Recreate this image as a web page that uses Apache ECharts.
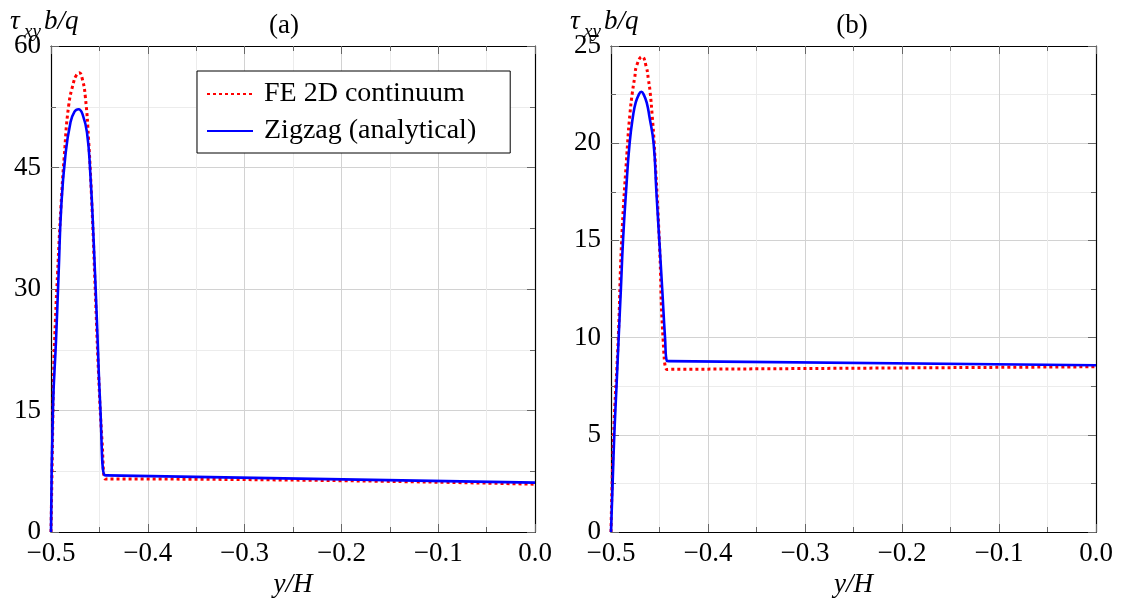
<!DOCTYPE html>
<html><head><meta charset="utf-8">
<script src="https://cdn.jsdelivr.net/npm/echarts@6/dist/echarts.min.js"></script>
<style>html,body{margin:0;padding:0;background:#fff}#c{width:1121px;height:605px}</style>
</head><body><div id="c"></div>
<script>
// ---------- data ----------
const seriesNames = ['FE 2D continuum', 'Zigzag (analytical)'];
const panelTitles = ['(a)', '(b)'];
const xMin = -0.5, xMax = 0, xStep = 0.1;
const yMaxA = 60, yStepA = 15;
const yMaxB = 25, yStepB = 5;

// Panel (a)
const aFeX = [-0.5, -0.4986, -0.4973, -0.4955, -0.4932, -0.4897, -0.4863, -0.4818, -0.4767, -0.4738, -0.4708, -0.4676, -0.4646, -0.4612, -0.4577, -0.4543, -0.4509, -0.4473, -0.4439, -0.4420, 0];
const aFeY = [0, 10, 19.6, 26, 32.0, 40.2, 46.4, 52.6, 55.5, 56.4, 56.7, 55.9, 53.8, 48.5, 40.2, 29.9, 19.6, 11.3, 6.55, 6.55, 5.9];
const aZzX = [-0.5, -0.4979, -0.4948, -0.4921, -0.4894, -0.4852, -0.48, -0.4757, -0.4715, -0.4672, -0.4628, -0.4594, -0.456, -0.4525, -0.4491, -0.4447, -0.4425, 0];
const aZzY = [0, 15.5, 23.7, 32.0, 40.2, 46.4, 50.5, 51.9, 52.2, 51.5, 49.3, 44.3, 36.1, 25.8, 15.5, 7.0, 6.99, 6.1];

// Panel (b)
const bFeX = [-0.5, -0.4973, -0.4925, -0.489, -0.4829, -0.4805, -0.478, -0.4755, -0.4735, -0.468, -0.4635, -0.4615, -0.4596, -0.4575, -0.4555, -0.4502, -0.4464, -0.4423, -0.4405, 0];
const bFeY = [0, 5, 10, 15, 20, 21.5, 22.6, 23.4, 24.0, 24.45, 23.9, 23.3, 22.6, 21.4, 20, 15, 10, 8.36, 8.365, 8.5];
const bZzX = [-0.5, -0.4983, -0.4966, -0.4943, -0.4921, -0.4898, -0.4876, -0.4845, -0.4808, -0.477, -0.4745, -0.4718, -0.4688, -0.4658, -0.463, -0.4605, -0.4561, -0.4532, -0.4502, -0.4472, -0.4443, -0.4423, -0.4405, 0];
const bZzY = [0, 2.5, 5, 7.5, 10, 12.5, 15, 17.5, 20, 21.5, 22.1, 22.45, 22.65, 22.45, 22.05, 21.4, 20, 17.5, 15, 12.5, 10, 8.8, 8.79, 8.58];

// ---------- chart ----------
const zip = (xs, ys) => xs.map((x, i) => [x, ys[i]]);
const FONT = '"Liberation Serif", "DejaVu Serif", serif';
const fmtX = v => (v < -1e-9 ? '\u2212' : '') + Math.abs(v).toFixed(1);

function mainX(gi) {
  return {
    gridIndex: gi, type: 'value', min: xMin, max: xMax, interval: xStep,
    axisLine: { show: true, onZero: false, lineStyle: { color: '#000', width: 1.2 } },
    axisTick: { show: true, inside: true, length: 8, lineStyle: { color: '#666' } },
    minorTick: { show: true, splitNumber: 2, length: 5, lineStyle: { color: '#666' } },
    splitLine: { show: true, lineStyle: { color: '#d2d2d2', width: 1 } },
    minorSplitLine: { show: true, lineStyle: { color: '#ececec', width: 1 } },
    axisLabel: { color: '#000', fontFamily: FONT, fontSize: 27, margin: 8, formatter: fmtX },
    name: 'y/H', nameLocation: 'middle', nameGap: 36,
    nameTextStyle: { color: '#000', fontFamily: FONT, fontSize: 27, fontStyle: 'italic' }
  };
}
function mirrorX(gi) {
  return {
    gridIndex: gi, type: 'value', min: xMin, max: xMax, interval: xStep, position: 'top',
    axisLine: { show: true, onZero: false, lineStyle: { color: '#000', width: 1.2 } },
    axisTick: { show: true, inside: true, length: 8, lineStyle: { color: '#666' } },
    minorTick: { show: true, splitNumber: 2, length: 5, lineStyle: { color: '#666' } },
    splitLine: { show: false }, axisLabel: { show: false }
  };
}
function mainY(gi, max, step) {
  return {
    gridIndex: gi, type: 'value', min: 0, max: max, interval: step,
    axisLine: { show: true, onZero: false, lineStyle: { color: '#000', width: 1.2 } },
    axisTick: { show: true, inside: true, length: 8, lineStyle: { color: '#666' } },
    minorTick: { show: true, splitNumber: 2, length: 5, lineStyle: { color: '#666' } },
    splitLine: { show: true, lineStyle: { color: '#d2d2d2', width: 1 } },
    minorSplitLine: { show: true, lineStyle: { color: '#ececec', width: 1 } },
    axisLabel: { color: '#000', fontFamily: FONT, fontSize: 27, margin: 10 }
  };
}
function mirrorY(gi, max, step) {
  return {
    gridIndex: gi, type: 'value', min: 0, max: max, interval: step, position: 'right',
    axisLine: { show: true, onZero: false, lineStyle: { color: '#000', width: 1.2 } },
    axisTick: { show: true, inside: true, length: 8, lineStyle: { color: '#666' } },
    minorTick: { show: true, splitNumber: 2, length: 5, lineStyle: { color: '#666' } },
    splitLine: { show: false }, axisLabel: { show: false }
  };
}
const feStyle = { color: '#ff0000', width: 3, type: [3, 3], cap: 'butt' };
const zzStyle = { color: '#0000ff', width: 2.6 };
function line(name, xi, yi, data, ls) {
  return {
    name, type: 'line', xAxisIndex: xi, yAxisIndex: yi, data,
    symbol: 'none', smooth: 0.5,
    lineStyle: ls, itemStyle: { color: ls.color }, animation: false
  };
}

function yName(x0) {
  return [
    { type: 'text', x: x0 + 10, y: 22, style: { text: '\u03c4', font: 'italic 27px ' + FONT, fill: '#000', verticalAlign: 'middle' } },
    { type: 'text', x: x0 + 24, y: 32, style: { text: 'xy', font: 'italic 19px ' + FONT, fill: '#000', verticalAlign: 'middle' } },
    { type: 'text', x: x0 + 44, y: 22, style: { text: 'b/q', font: 'italic 27px ' + FONT, fill: '#000', verticalAlign: 'middle' } }
  ];
}

const chart = echarts.init(document.getElementById('c'), null, { renderer: 'canvas' });
chart.setOption({
  backgroundColor: '#fff',
  animation: false,
  grid: [
    { left: 51, top: 46, width: 484, height: 486 },
    { left: 611, top: 46, width: 485, height: 486 }
  ],
  xAxis: [mainX(0), mirrorX(0), mainX(1), mirrorX(1)],
  yAxis: [mainY(0, yMaxA, yStepA), mirrorY(0, yMaxA, yStepA), mainY(1, yMaxB, yStepB), mirrorY(1, yMaxB, yStepB)],
  legend: {
    data: seriesNames, orient: 'vertical', left: 197, top: 71,
    backgroundColor: '#fff', borderColor: '#000', borderWidth: 1,
    padding: [9, 34, 8, 9], itemGap: 9, itemWidth: 46, itemHeight: 14,
    itemStyle: { opacity: 0 },
    textStyle: { color: '#000', fontFamily: FONT, fontSize: 28, padding: [0, 0, 0, 6] },
    selectedMode: false
  },
  graphic: [
    ...yName(0), ...yName(560),
    { type: 'text', x: 284, y: 26, style: { text: panelTitles[0], font: '27px ' + FONT, fill: '#000', align: 'center', verticalAlign: 'middle' } },
    { type: 'text', x: 852, y: 26, style: { text: panelTitles[1], font: '27px ' + FONT, fill: '#000', align: 'center', verticalAlign: 'middle' } }
  ],
  series: [
    line(seriesNames[0], 0, 0, zip(aFeX, aFeY), feStyle),
    line(seriesNames[1], 0, 0, zip(aZzX, aZzY), zzStyle),
    line(seriesNames[0], 2, 2, zip(bFeX, bFeY), feStyle),
    line(seriesNames[1], 2, 2, zip(bZzX, bZzY), zzStyle)
  ]
});
</script></body></html>
